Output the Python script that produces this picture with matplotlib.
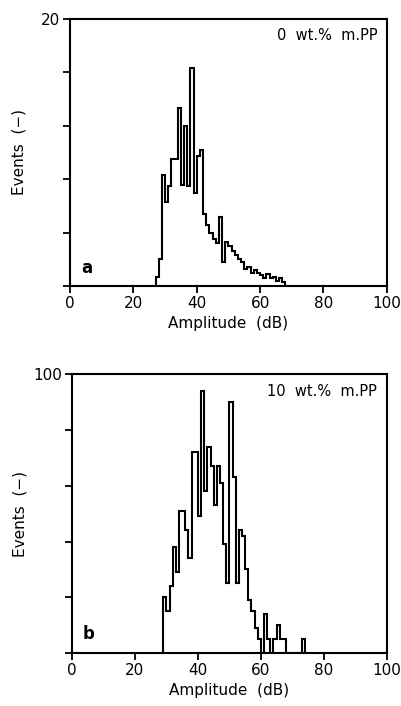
import numpy as np
import matplotlib
matplotlib.use("Agg")
import matplotlib.pyplot as plt

# ---- data ----
# Panel a: 0 wt.% m.PP, 1 dB bins, left edges
bins_a = list(range(27, 69))
events_a = [0.7, 2.0, 8.3, 6.3, 7.5, 9.5, 9.5, 13.3, 7.6, 12.0,
            7.5, 16.3, 7.0, 9.7, 10.2, 5.4, 4.6, 4.0, 3.5, 3.2,
            5.2, 1.8, 3.3, 3.0, 2.6, 2.3, 2.0, 1.8, 1.3, 1.4,
            1.0, 1.2, 1.0, 0.8, 0.6, 0.9, 0.6, 0.7, 0.4, 0.6,
            0.3]
# Panel b: 10 wt.% m.PP
bins_b = list(range(29, 75))
events_b = [20, 15, 24, 38, 29, 51, 51, 44, 34, 72,
            72, 49, 94, 58, 74, 67, 53, 67, 61, 39,
            25, 90, 63, 25, 44, 42, 30, 19, 15, 9,
            5, 0, 14, 5, 0, 5, 10, 5, 5, 0,
            0, 0, 0, 0, 5]

x_ticks = [0, 20, 40, 60, 80, 100]
yticks_a = [0, 4, 8, 12, 16, 20]
yticks_b = [0, 20, 40, 60, 80, 100]
label_a = "0  wt.%  m.PP"
label_b = "10  wt.%  m.PP"

plt.rcParams['font.family'] = ['DejaVu Sans']

fig = plt.figure(figsize=(4.01, 7.06), dpi=100)
ax_a = fig.add_axes([0.1746, 0.595, 0.790, 0.378])
ax_b = fig.add_axes([0.1796, 0.075, 0.785, 0.395])

def style(ax, yticks, ytop_label, bins, events, letter, text, ylab_x):
    edges = bins + [bins[-1] + 1]
    edges = edges[:len(events) + 1]
    ax.stairs(events, edges, baseline=0, fill=False, color='black', linewidth=1.5)
    ax.set_xlim(0, 100)
    ax.set_ylim(0, yticks[-1])
    ax.set_xticks(x_ticks)
    ax.set_xticklabels([str(t) for t in x_ticks], fontsize=11)
    ax.set_yticks(yticks)
    ax.set_yticklabels([''] * (len(yticks) - 1) + [ytop_label], fontsize=11)
    ax.tick_params(direction='out', length=5, width=1.3, colors='black', pad=2)
    for s in ax.spines.values():
        s.set_linewidth(1.5)
        s.set_color('black')
    ax.set_xlabel("Amplitude  (dB)", fontsize=11, labelpad=4)
    ax.set_ylabel("Events  (\u2212)", fontsize=11)
    ax.yaxis.set_label_coords(ylab_x, 0.5)
    ax.text(0.035, 0.035, letter, transform=ax.transAxes, fontsize=12,
            fontweight='bold', ha='left', va='bottom')
    ax.text(0.97, 0.965, text, transform=ax.transAxes, fontsize=10.5,
            ha='right', va='top')

style(ax_a, yticks_a, '20', bins_a, events_a, 'a', label_a, -0.136)
style(ax_b, yticks_b, '100', bins_b, events_b, 'b', label_b, -0.143)

fig.savefig("out.png", dpi=100)
